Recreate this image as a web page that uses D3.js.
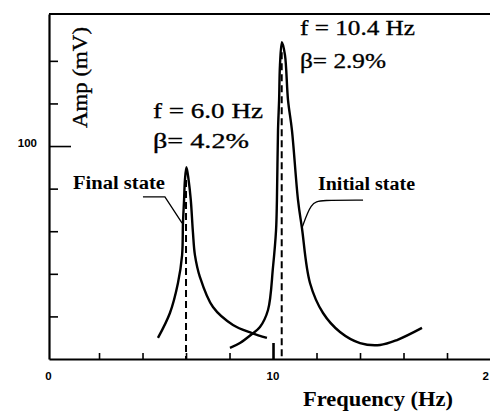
<!DOCTYPE html>
<html>
<head>
<meta charset="utf-8">
<script src="https://cdn.jsdelivr.net/npm/d3@7"></script>
<style>
  body { margin: 0; background: #fff; }
  svg { display: block; }
</style>
</head>
<body>
<script>
// Response curves: frequency in Hz, amplitude in mV.
var finalFreq = [4.71, 5.26, 5.63, 5.82, 5.86, 5.91, 5.95, 6.02, 6.12, 6.22, 6.32, 6.41, 6.64, 7.24, 8.16, 9.03, 9.72];
var finalAmp  = [9.9, 21.6, 35.7, 48.8, 63.8, 74.6, 84, 90.1, 84, 74.6, 59.2, 48.8, 38.5, 24.4, 16.0, 12.2, 9.9];

var initialFreq = [8.02, 8.48, 9.03, 9.40, 9.77, 10.0, 10.14, 10.18, 10.23, 10.28, 10.32, 10.41, 10.55, 10.69, 10.87, 11.15, 11.33, 11.70, 12.30, 13.08, 14.0, 14.92, 15.70, 16.85];
var initialAmp  = [5.2, 7.5, 11.7, 15.0, 23.0, 43.2, 60.6, 74.6, 107.5, 121.6, 138, 148.8, 142.7, 121.6, 107.5, 74.6, 61.5, 35.7, 21.6, 12.7, 7.5, 6.6, 8.9, 14.6];

// Dashed markers at the two natural frequencies.
var peakFreq = [6.0, 10.4];
var peakTop  = [84, 144];

// Axis ticks and the few labels that are printed (the "20" is cropped to "2" in the scan).
var xTicks = [2, 4, 6, 8, 10, 12, 14, 16, 18];
var xLabelValues = [0, 10, 20];
var xLabels = ["0", "10", "2"];
var yTicks = [20, 40, 60, 80, 100, 120, 140];
var yLabelValues = [100];

var width = 490, height = 413;
var SERIF = "'Liberation Serif', 'Times New Roman', Times, serif";
var SANS = "'Liberation Sans', Arial, sans-serif";

var svg = d3.select("body").append("svg")
    .attr("width", width)
    .attr("height", height);

// 0 Hz sits a little right of the drawn vertical axis in the original.
var x = d3.scaleLinear().domain([-0.3, 20]).range([49, 490.5]);
var y = d3.scaleLinear().domain([0, 162]).range([359, 14]);

// Bottom axis, ticks pointing inwards.
var xAxis = svg.append("g")
    .attr("transform", "translate(0," + y(0) + ")")
    .call(d3.axisBottom(x).tickValues(xTicks).tickSize(-6).tickSizeOuter(0).tickFormat(""));
xAxis.select(".domain").attr("stroke-width", 2.2);
xAxis.selectAll(".tick line").attr("stroke-width", 1.6);
xAxis.selectAll(".tick").filter(function (d) { return d === 10; })
    .select("line").attr("y2", -16).attr("stroke-width", 2.6);

// Left axis, also with inward ticks; only 100 is labelled.
var yAxis = svg.append("g")
    .attr("transform", "translate(" + x(-0.3) + ",0)")
    .call(d3.axisLeft(y).tickValues(yTicks).tickSize(-9).tickSizeOuter(0).tickPadding(12)
        .tickFormat(function (d) { return yLabelValues.indexOf(d) >= 0 ? String(d) : ""; }));
yAxis.select(".domain").attr("stroke-width", 2.2);
yAxis.selectAll(".tick line").attr("stroke-width", 1.6);
yAxis.selectAll(".tick").filter(function (d) { return d === 100; })
    .select("line").attr("x2", 22);
yAxis.selectAll(".tick text")
    .attr("dy", "0")
    .attr("font-family", SANS)
    .attr("font-weight", "bold")
    .attr("font-size", 11.5)
    .attr("fill", "#000");

// Top edge of the frame.
svg.append("line")
    .attr("x1", x(-0.3)).attr("x2", width)
    .attr("y1", y(162)).attr("y2", y(162))
    .attr("stroke", "#000").attr("stroke-width", 1.8);

// Tick labels under the frequency axis.
svg.append("g").selectAll("text")
    .data(xLabelValues)
    .enter().append("text")
    .attr("x", function (d) { return d === 0 ? x(d) - 7 : d === 20 ? x(d) - 1.5 : x(d); })
    .attr("y", 380)
    .attr("text-anchor", function (d) { return d === 20 ? "end" : "middle"; })
    .attr("font-family", SANS)
    .attr("font-weight", "bold")
    .attr("font-size", 11.5)
    .text(function (d, i) { return xLabels[i]; });

// The two response curves.
var line = d3.line()
    .x(function (d) { return x(d[0]); })
    .y(function (d) { return y(d[1]); })
    .curve(d3.curveCatmullRom.alpha(0.5));

svg.append("path")
    .datum(d3.zip(finalFreq, finalAmp))
    .attr("d", line)
    .attr("fill", "none").attr("stroke", "#000").attr("stroke-width", 2.4);

svg.append("path")
    .datum(d3.zip(initialFreq, initialAmp))
    .attr("d", line)
    .attr("fill", "none").attr("stroke", "#000").attr("stroke-width", 2.4);

// Dashed verticals at the peaks.
svg.append("g").selectAll("line")
    .data(peakFreq)
    .enter().append("line")
    .attr("x1", function (d) { return x(d); })
    .attr("x2", function (d) { return x(d); })
    .attr("y1", function (d, i) { return y(peakTop[i]); })
    .attr("y2", y(0))
    .attr("stroke", "#000")
    .attr("stroke-width", 2)
    .attr("stroke-dasharray", "7,4");

// Leader lines from the state labels to the curves.
svg.append("path")
    .datum([[4.02, 76.1], [5.03, 76.1], [5.82, 63.8]])
    .attr("d", d3.line().x(function (d) { return x(d[0]); }).y(function (d) { return y(d[1]); }))
    .attr("fill", "none").attr("stroke", "#000").attr("stroke-width", 1.3);

svg.append("path")
    .datum([[14.14, 74.6], [12.2, 74.6], [11.75, 73.5], [11.33, 61.5]])
    .attr("d", d3.line().x(function (d) { return x(d[0]); }).y(function (d) { return y(d[1]); })
        .curve(d3.curveBasis))
    .attr("fill", "none").attr("stroke", "#000").attr("stroke-width", 1.3);

// Text annotations in a Times-like face, slightly heavy like the scan.
function serif(xp, yp, txt, size, len, bold) {
    return svg.append("text")
        .attr("x", xp).attr("y", yp)
        .attr("font-family", SERIF)
        .attr("font-size", size)
        .attr("font-weight", bold ? "bold" : "normal")
        .attr("stroke", "#000").attr("stroke-width", bold ? 0 : 0.35)
        .attr("textLength", len).attr("lengthAdjust", "spacingAndGlyphs")
        .text(txt);
}

serif(153, 118, "f = 6.0 Hz", 22, 110, false);
serif(153, 148, "\u03b2= 4.2%", 22, 96, false);
serif(300, 35, "f = 10.4 Hz", 22, 115, false);
serif(300, 68, "\u03b2= 2.9%", 22, 86, false);
serif(73, 189, "Final state", 18, 92, true);
serif(318, 190, "Initial state", 18, 97, true);
serif(303, 406, "Frequency (Hz)", 21, 150, true);

serif(0, 0, "Amp (mV)", 22, 101, false)
    .attr("transform", "translate(87,128) rotate(-90)");
</script>
</body>
</html>
